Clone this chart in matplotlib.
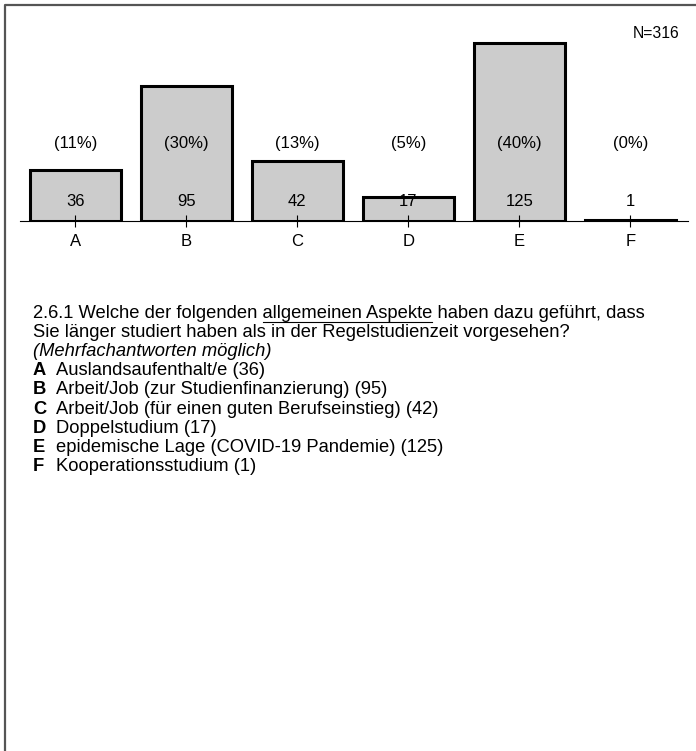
import numpy as np
import matplotlib
matplotlib.use("Agg")
import matplotlib.pyplot as plt
from matplotlib.lines import Line2D

plt.rcParams['font.family'] = ['Liberation Sans', 'DejaVu Sans']

# Daten
categories = ['A', 'B', 'C', 'D', 'E', 'F']
counts = [36, 95, 42, 17, 125, 1]
n_total = 316
answer_labels = [
    'Auslandsaufenthalt/e',
    'Arbeit/Job (zur Studienfinanzierung)',
    'Arbeit/Job (für einen guten Berufseinstieg)',
    'Doppelstudium',
    'epidemische Lage (COVID-19 Pandemie)',
    'Kooperationsstudium',
]
question_prefix = '2.6.1 Welche der folgenden '
question_underlined = 'allgemeinen Aspekte'
question_rest = ' haben dazu geführt, dass'
question_line2 = 'Sie länger studiert haben als in der Regelstudienzeit vorgesehen?'
question_note = '(Mehrfachantworten möglich)'

W, H = 696, 751
fig = plt.figure(figsize=(W / 100, H / 100), dpi=100)


def fx(px):
    return px / W


def fy(py):
    # Pixel von oben -> Figurkoordinate
    return 1 - py / H


# Rahmen links und oben
fig.add_artist(Line2D([fx(4.5), fx(4.5), fx(W)], [0, fy(4.5), fy(4.5)],
                      transform=fig.transFigure, color='#555555', lw=1.6))

# Balkendiagramm
base_px = 221
top_px = 4
chart_fs = 12
ax = fig.add_axes([fx(20), fy(base_px), fx(688 - 20), (base_px - top_px) / H])
x = np.arange(len(categories))
ax.bar(x, counts, width=0.82, color='#cccccc', edgecolor='black', linewidth=2.2)
ax.set_xlim(-0.5, 5.52)
ax.set_ylim(0, (base_px - top_px) / 1.424)
ax.set_xticks(x)
ax.set_xticklabels(categories, fontsize=chart_fs)
ax.set_yticks([])
ax.tick_params(axis='x', direction='inout', length=8, width=0.8, pad=5.5)
for s in ['top', 'right', 'left']:
    ax.spines[s].set_visible(False)
ax.spines['bottom'].set_linewidth(0.8)
ax.patch.set_alpha(0)

for i, v in enumerate(counts):
    pct = round(v / n_total * 100)
    ax.annotate(str(v), xy=(i, 0), xytext=(0, 14), textcoords='offset points',
                ha='center', va='center', fontsize=chart_fs)
    ax.annotate(f'({pct}%)', xy=(i, 0), xytext=(0, 56), textcoords='offset points',
                ha='center', va='center', fontsize=chart_fs)

fig.text(fx(656), fy(33), f'N={n_total}', ha='center', va='center', fontsize=11.3)

# Fragetext
fs = 13.2
left = fx(33)
line_h = 19.2
y0 = 313
fig.text(left, fy(y0), question_prefix + question_underlined + question_rest,
         ha='left', va='center', fontsize=fs)
fig.text(left, fy(y0 + line_h), question_line2, ha='left', va='center', fontsize=fs)
fig.text(left, fy(y0 + 2 * line_h), question_note, ha='left', va='center',
         fontsize=fs, style='italic')

for i, (c, lab, v) in enumerate(zip(categories, answer_labels, counts)):
    yy = fy(y0 + (3 + i) * line_h)
    fig.text(left, yy, c, ha='left', va='center', fontsize=fs, weight='bold')
    fig.text(fx(56), yy, f'{lab} ({v})', ha='left', va='center', fontsize=fs)

# Unterstreichung berechnen
fig.canvas.draw()
r = fig.canvas.get_renderer()
tmp = fig.text(left, fy(y0), question_prefix, fontsize=fs)
w_pre = tmp.get_window_extent(r).width
tmp.set_text(question_prefix + question_underlined)
w_all = tmp.get_window_extent(r).width
tmp.remove()
x0 = 33 + w_pre
x1 = 33 + w_all
fig.add_artist(Line2D([fx(x0), fx(x1)], [fy(y0 + 9), fy(y0 + 9)],
                      transform=fig.transFigure, color='black', lw=0.8))

fig.savefig('out.png', dpi=100)
